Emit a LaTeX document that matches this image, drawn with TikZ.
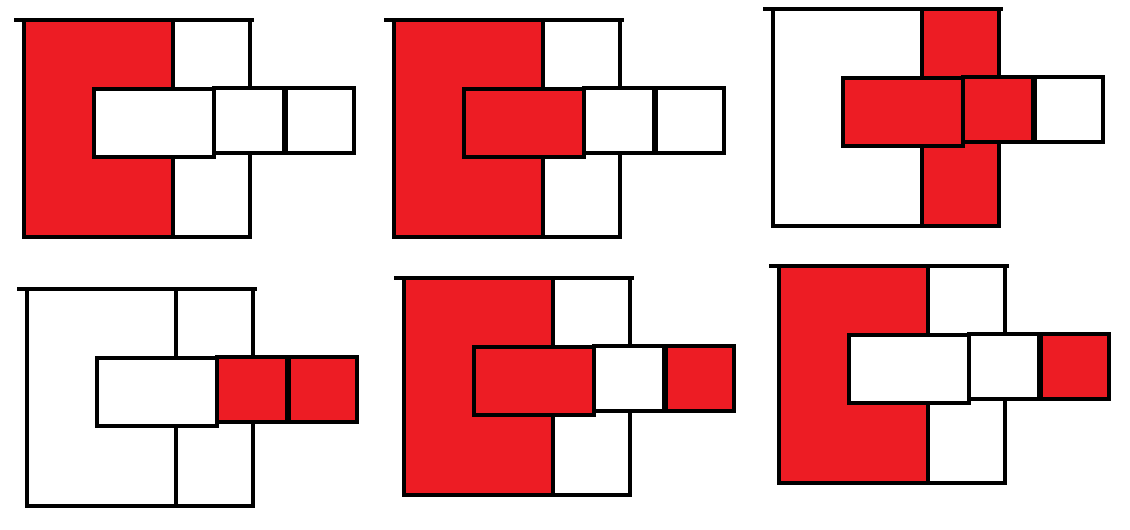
\documentclass[tikz,border=0pt]{standalone}
\definecolor{paintred}{RGB}{237,28,36}
\begin{document}
\begin{tikzpicture}[x=1pt, y=-1pt, line width=4.6pt, line cap=rect]
    \useasboundingbox (0,0) rectangle (1130,530);

        % Panels: origin / C / column / bar / first square / second square.
        \foreach \px/\py/\cfill/\colfill/\barfill/\afill/\bfill in {
            24/20/paintred/white/white/white/white,
            394/20/paintred/white/paintred/white/white,
            773/9/white/paintred/paintred/paintred/white,
            27/289/white/white/white/paintred/paintred,
            404/278/paintred/white/paintred/white/paintred,
            779/266/paintred/white/white/white/paintred}
        {
            \begin{scope}[shift={(\px,\py)}]
                % Filled regions.
                \fill[\cfill] (0,0) -| (149,69) -| (70,137) -| (149,217) -- (0,217) -- cycle;
                \fill[\colfill] (149,0) rectangle (226,217);

                % Frame.
                \draw (0,0) rectangle (226,217);
                \draw (149,0) -- (149,217);
                \draw (-8,0) -- (228,0);

                % Bar.
                \draw[fill=\barfill] (70,69) rectangle (190,137);
                \draw[fill=\afill] (190,68) rectangle (260,133);
                \draw[fill=\bfill] (262,68) rectangle (330,133);
            \end{scope}
        }

\end{tikzpicture}
\end{document}
